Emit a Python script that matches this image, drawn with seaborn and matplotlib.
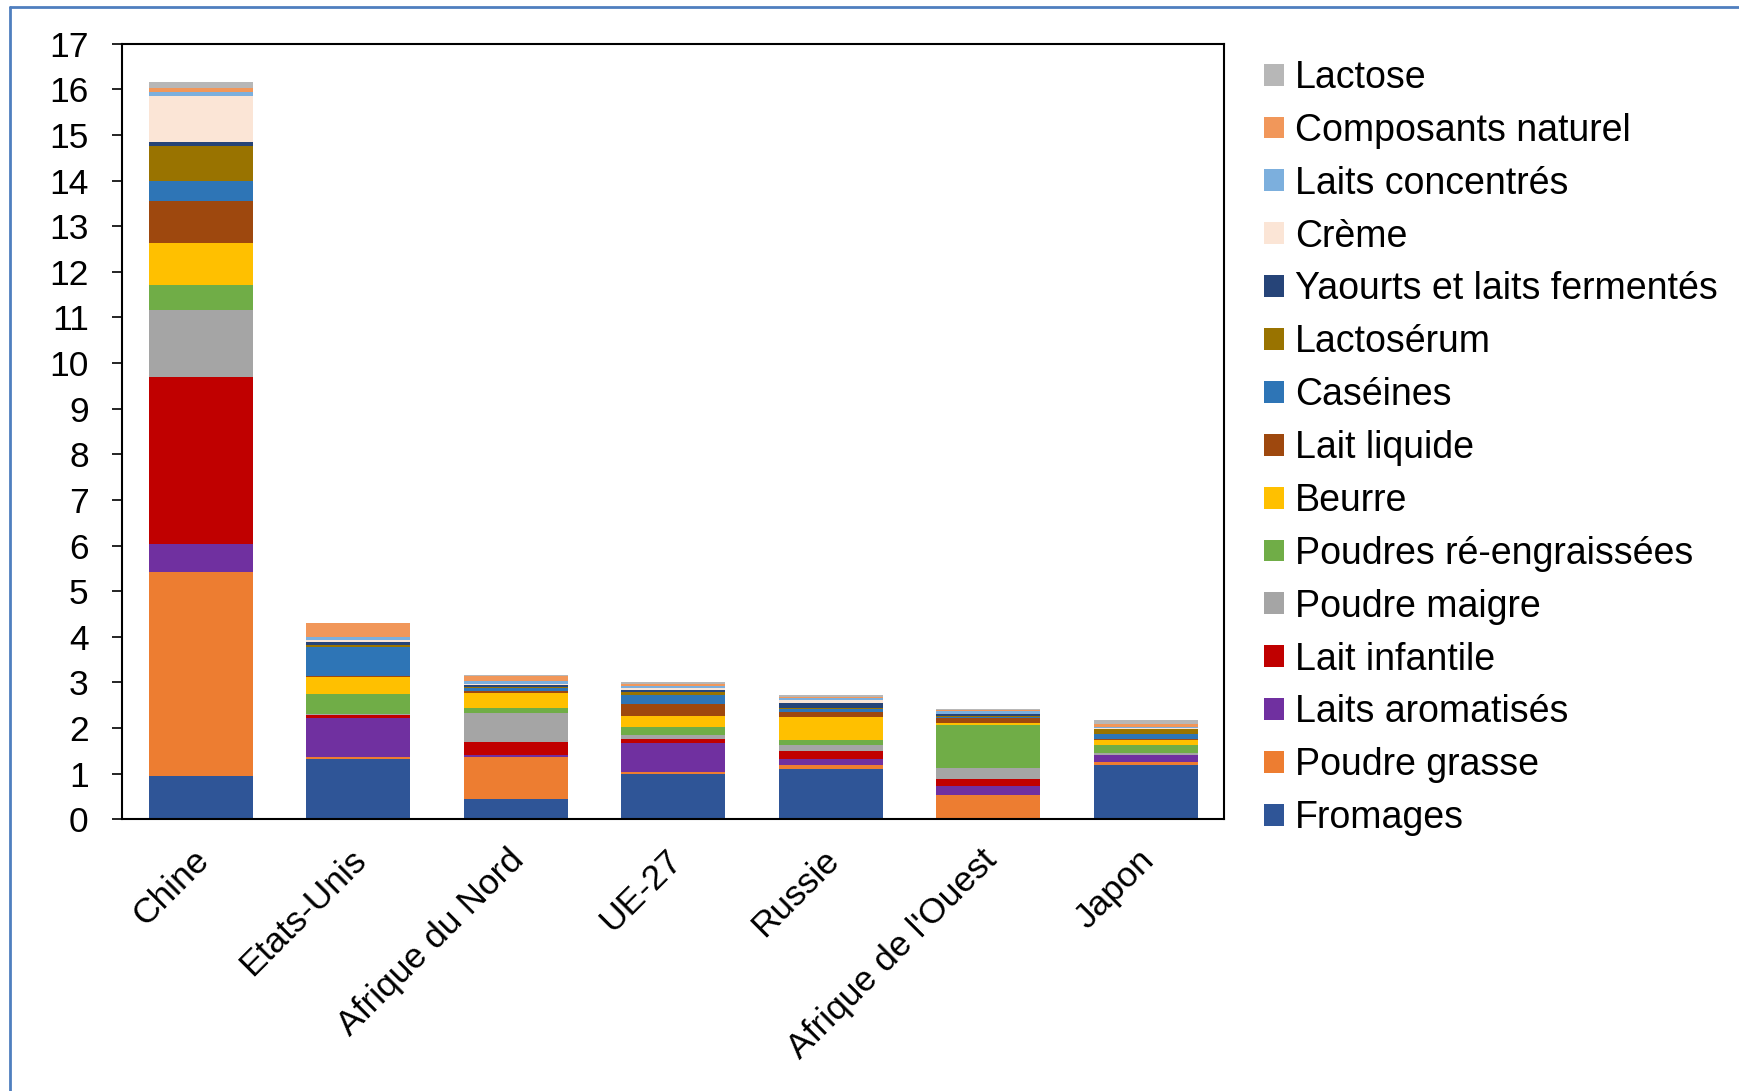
import matplotlib.pyplot as plt
import matplotlib.transforms as mtransforms
import numpy as np
import seaborn as sns
from matplotlib.patches import Patch
from matplotlib.lines import Line2D

regions = ['Chine', 'Etats-Unis', 'Afrique du Nord', 'UE-27', 'Russie', "Afrique de l'Ouest", 'Japon']

# one list per product, bottom of the stack first
fromages = [0.96, 1.32, 0.44, 0.99, 1.10, 0.04, 1.19]
poudre_grasse = [4.47, 0.05, 0.93, 0.04, 0.10, 0.49, 0.07]
laits_aromatises = [0.61, 0.85, 0.04, 0.64, 0.12, 0.21, 0.14]
lait_infantile = [3.65, 0.07, 0.29, 0.08, 0.17, 0.15, 0.01]
poudre_maigre = [1.47, 0.02, 0.64, 0.09, 0.14, 0.23, 0.04]
poudres_reengr = [0.55, 0.44, 0.10, 0.19, 0.10, 0.95, 0.19]
beurre = [0.92, 0.36, 0.33, 0.24, 0.52, 0.05, 0.10]
lait_liquide = [0.92, 0.03, 0.04, 0.26, 0.10, 0.11, 0.01]
caseines = [0.44, 0.63, 0.06, 0.19, 0.07, 0.02, 0.13]
lactoserum = [0.76, 0.05, 0.04, 0.07, 0.01, 0.02, 0.10]
yaourts = [0.09, 0.07, 0.03, 0.04, 0.13, 0.03, 0.01]
creme = [1.01, 0.03, 0.02, 0.04, 0.06, 0.01, 0.01]
laits_concentres = [0.10, 0.07, 0.07, 0.06, 0.04, 0.07, 0.02]
composants = [0.07, 0.31, 0.12, 0.04, 0.03, 0.01, 0.08]
lactose = [0.14, 0.01, 0.02, 0.04, 0.04, 0.02, 0.08]

series = [
    ('Fromages', fromages, '#2F5597'),
    ('Poudre grasse', poudre_grasse, '#ED7D31'),
    ('Laits aromatisés', laits_aromatises, '#7030A0'),
    ('Lait infantile', lait_infantile, '#C00000'),
    ('Poudre maigre', poudre_maigre, '#A5A5A5'),
    ('Poudres ré-engraissées', poudres_reengr, '#70AD47'),
    ('Beurre', beurre, '#FFC000'),
    ('Lait liquide', lait_liquide, '#9E480E'),
    ('Caséines', caseines, '#2E75B6'),
    ('Lactosérum', lactoserum, '#997300'),
    ('Yaourts et laits fermentés', yaourts, '#264478'),
    ('Crème', creme, '#FBE5D6'),
    ('Laits concentrés', laits_concentres, '#7CAFDD'),
    ('Composants naturel', composants, '#F1975A'),
    ('Lactose', lactose, '#B7B7B7'),
]

sns.set_style('white')
plt.rcParams['font.family'] = ['Liberation Sans', 'DejaVu Sans']
plt.rcParams['text.color'] = 'black'
plt.rcParams['xtick.color'] = 'black'
plt.rcParams['ytick.color'] = 'black'

fig = plt.figure(figsize=(17.4, 10.91), dpi=100)
ax = fig.add_axes([0.0701, 0.249, 0.6336, 0.711])

# stacked bars: draw cumulative totals from the top layer down
cum = np.cumsum([s[1] for s in series], axis=0)
for (name, vals, color), top in reversed(list(zip(series, cum))):
    sns.barplot(x=regions, y=top, color=color, saturation=1, width=0.66,
                linewidth=0, ax=ax)

ax.set_xlim(-0.5, 6.5)
ax.set_ylim(0, 17)
ax.set_yticks(range(0, 18))
ax.tick_params(axis='y', labelsize=25.5, length=7, width=1.2, left=True, direction='out', pad=17,
               colors='black')
ax.tick_params(axis='x', labelsize=25.5, length=0, pad=10, colors='black')
shift = mtransforms.ScaledTranslation(-0.085, -0.10, fig.dpi_scale_trans)
for lab in ax.get_xticklabels():
    lab.set_rotation(45)
    lab.set_ha('right')
    lab.set_rotation_mode('anchor')
    lab.set_transform(lab.get_transform() + shift)
ax.set_xlabel('')
ax.set_ylabel('')
for sp in ax.spines.values():
    sp.set_visible(True)
    sp.set_color('black')
    sp.set_linewidth(1.5)

# legend, top item first
handles = [Patch(facecolor=c, edgecolor='none', label=n) for n, _, c in reversed(series)]
leg = fig.legend(handles=handles, loc='upper left', bbox_to_anchor=(0.718, 0.9588), frameon=False,
                 fontsize=27, handlelength=0.52, handleheight=0.52, handletextpad=0.3,
                 labelspacing=0.45, borderaxespad=0)
for t in leg.get_texts():
    t.set_color('black')

# blue frame of the original slide
fig.add_artist(Line2D([0.0055, 0.0055], [0, 0.994], color='#4F7FBF', lw=2, transform=fig.transFigure))
fig.add_artist(Line2D([0.0055, 1], [0.994, 0.994], color='#4F7FBF', lw=2, transform=fig.transFigure))

fig.savefig('out.png', dpi=100)
